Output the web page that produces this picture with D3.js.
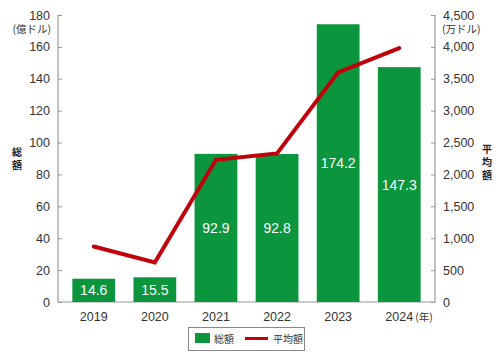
<!doctype html>
<html lang="ja">
  <head>
    <meta charset="utf-8">
    <title>総額と平均額</title>
    <script src="https://cdn.jsdelivr.net/npm/d3@7"></script>
    <style>
      body { margin: 0; background: #fff; }
      svg { display: block; font-family: 'Liberation Sans', 'Noto Sans CJK JP', sans-serif; }
      .jp { font-family: 'Noto Sans CJK JP', sans-serif; }
    </style>
  </head>
  <body>
    <div id="root"></div>
  </body>
  <script>
    // data
    const years = ["2019", "2020", "2021", "2022", "2023", "2024"];
    const totals = [14.6, 15.5, 92.9, 92.8, 174.2, 147.3];      // 億ドル
    const averages = [870, 620, 2230, 2330, 3600, 3980];        // 万ドル
    const leftTicks = [0, 20, 40, 60, 80, 100, 120, 140, 160, 180];
    const rightTicks = [0, 500, 1000, 1500, 2000, 2500, 3000, 3500, 4000, 4500];

    const width = 500, height = 363;
    const plotL = 58, plotR = 435, plotT = 15, plotB = 302;
    const green = "#0b963e", red = "#c0000a", grey = "#999", txt = "#333";

    const svg = d3.select("#root").append("svg")
      .attr("width", width).attr("height", height);

    const x = d3.scaleBand().domain(years).range([plotL, plotR])
      .paddingInner(0.3).paddingOuter(0.235);
    const yL = d3.scaleLinear().domain([0, 180]).range([plotB, plotT]);
    const yR = d3.scaleLinear().domain([0, 4500]).range([plotB, plotT]);

    // axes
    const axL = svg.append("g").attr("transform", `translate(${plotL},0)`)
      .call(d3.axisLeft(yL).tickValues(leftTicks).tickSize(-4).tickPadding(8));
    const axR = svg.append("g").attr("transform", `translate(${plotR},0)`)
      .call(d3.axisRight(yR).tickValues(rightTicks).tickSize(-4).tickPadding(8)
        .tickFormat(d3.format(",")));
    [axL, axR].forEach(g => {
      g.select(".domain").attr("stroke", grey).attr("stroke-width", 1.2)
        .attr("d", `M0,${plotT}V${plotB}`);
      g.selectAll(".tick line").attr("stroke", grey);
      g.selectAll(".tick text").attr("fill", txt).attr("font-size", 12.5)
        .attr("font-family", "'Liberation Sans', sans-serif");
    });

    // baseline
    svg.append("line")
      .attr("x1", plotL).attr("x2", plotR)
      .attr("y1", plotB).attr("y2", plotB)
      .attr("stroke", grey).attr("stroke-width", 1.2);

    // units
    svg.append("text").attr("class", "jp").attr("x", 51).attr("y", 33)
      .attr("text-anchor", "end").attr("font-size", 10.5).attr("fill", txt).text("(億ドル)");
    svg.append("text").attr("class", "jp").attr("x", 442).attr("y", 33)
      .attr("font-size", 10.5).attr("fill", txt).text("(万ドル)");

    // axis titles, one character per line
    function vtitle(str, cx, cy) {
      const chars = Array.from(str);
      const lh = 13;
      svg.append("g").selectAll("text").data(chars).enter().append("text")
        .attr("class", "jp")
        .attr("x", cx)
        .attr("y", (c, i) => cy + (i - (chars.length - 1) / 2) * lh)
        .attr("text-anchor", "middle").attr("dominant-baseline", "central")
        .attr("font-size", 10).attr("font-weight", "bold").attr("fill", "#222")
        .text(c => c);
    }
    vtitle("総額", 17, 158);
    vtitle("平均額", 487, 161);

    // bars
    svg.selectAll("rect.bar").data(totals).enter().append("rect")
      .attr("class", "bar")
      .attr("x", (d, i) => x(years[i]))
      .attr("y", d => yL(d))
      .attr("width", x.bandwidth())
      .attr("height", d => plotB - yL(d))
      .attr("fill", green);

    svg.selectAll("text.val").data(totals).enter().append("text")
      .attr("class", "val")
      .attr("x", (d, i) => x(years[i]) + x.bandwidth() / 2)
      .attr("y", d => yL(d / 2) + 5)
      .attr("text-anchor", "middle")
      .attr("font-size", 14).attr("fill", "#fff")
      .text(d => d.toFixed(1));

    // line
    const line = d3.line()
      .x((d, i) => x(years[i]) + x.bandwidth() / 2)
      .y(d => yR(d));
    svg.append("path").datum(averages)
      .attr("d", line).attr("fill", "none")
      .attr("stroke", red).attr("stroke-width", 4)
      .attr("stroke-linejoin", "miter").attr("stroke-linecap", "round");

    // x labels
    svg.selectAll("text.year").data(years).enter().append("text")
      .attr("class", "year")
      .attr("x", d => x(d) + x.bandwidth() / 2)
      .attr("y", 321)
      .attr("text-anchor", "middle").attr("font-size", 12.5).attr("fill", txt)
      .text(d => d);
    svg.append("text").attr("class", "jp")
      .attr("x", x("2024") + x.bandwidth() / 2 + 16).attr("y", 321)
      .attr("font-size", 10.5).attr("fill", txt).text("(年)");

    // legend
    const lg = svg.append("g");
    lg.append("rect").attr("x", 188.5).attr("y", 327.5).attr("width", 116).attr("height", 23)
      .attr("fill", "#fff").attr("stroke", "#888");
    lg.append("rect").attr("x", 195).attr("y", 333).attr("width", 15).attr("height", 10).attr("fill", green);
    lg.append("text").attr("class", "jp").attr("x", 214).attr("y", 342.5)
      .attr("font-size", 10).attr("fill", txt).text("総額");
    lg.append("line").attr("x1", 245).attr("x2", 268).attr("y1", 338.5).attr("y2", 338.5)
      .attr("stroke", red).attr("stroke-width", 3);
    lg.append("text").attr("class", "jp").attr("x", 273).attr("y", 342.5)
      .attr("font-size", 10).attr("fill", txt).text("平均額");
  </script>
</html>
